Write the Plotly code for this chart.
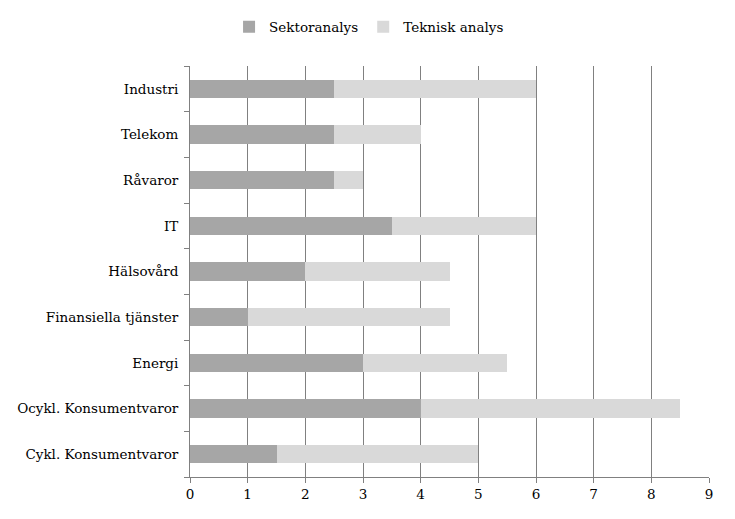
import plotly.graph_objects as go

# categories listed bottom to top
categories = [
    "Cykl. Konsumentvaror",
    "Ocykl. Konsumentvaror",
    "Energi",
    "Finansiella tjänster",
    "Hälsovård",
    "IT",
    "Råvaror",
    "Telekom",
    "Industri",
]
sektoranalys = [1.5, 4, 3, 1, 2, 3.5, 2.5, 2.5, 2.5]
teknisk_analys = [3.5, 4.5, 2.5, 3.5, 2.5, 2.5, 0.5, 1.5, 3.5]
x_ticks = list(range(0, 10))

serif = "DejaVu Serif"

fig = go.Figure()

fig.add_trace(
    go.Bar(
        y=categories,
        x=sektoranalys,
        orientation="h",
        name="Sektoranalys",
        marker=dict(color="#A6A6A6", line=dict(width=0)),
    )
)

fig.add_trace(
    go.Bar(
        y=categories,
        x=teknisk_analys,
        orientation="h",
        name="Teknisk analys",
        marker=dict(color="#D9D9D9", line=dict(width=0)),
    )
)

fig.update_layout(
    barmode="stack",
    bargap=0.6,
    width=735,
    height=519,
    margin=dict(l=182, r=34, t=58, b=50, autoexpand=False),
    plot_bgcolor="white",
    paper_bgcolor="white",
    font=dict(family=serif, size=13.5, color="black"),
    legend=dict(
        orientation="h",
        yanchor="middle",
        y=1.095,
        xanchor="center",
        x=0.345,
        font=dict(family=serif, size=13.5),
        itemwidth=30,
        traceorder="normal",
    ),
    xaxis=dict(
        range=[0, 9],
        tickvals=x_ticks,
        showgrid=True,
        gridcolor="#808080",
        gridwidth=1,
        showline=True,
        linecolor="#808080",
        ticks="outside",
        ticklen=5,
        tickcolor="#808080",
        zeroline=False,
        automargin=False,
    ),
    yaxis=dict(
        categoryorder="array",
        categoryarray=categories,
        showline=True,
        linecolor="#808080",
        ticks="outside",
        tickson="boundaries",
        ticklen=5,
        tickcolor="#808080",
        showgrid=False,
        ticklabelstandoff=8,
        automargin=False,
    ),
)

fig.write_html("out.html")
